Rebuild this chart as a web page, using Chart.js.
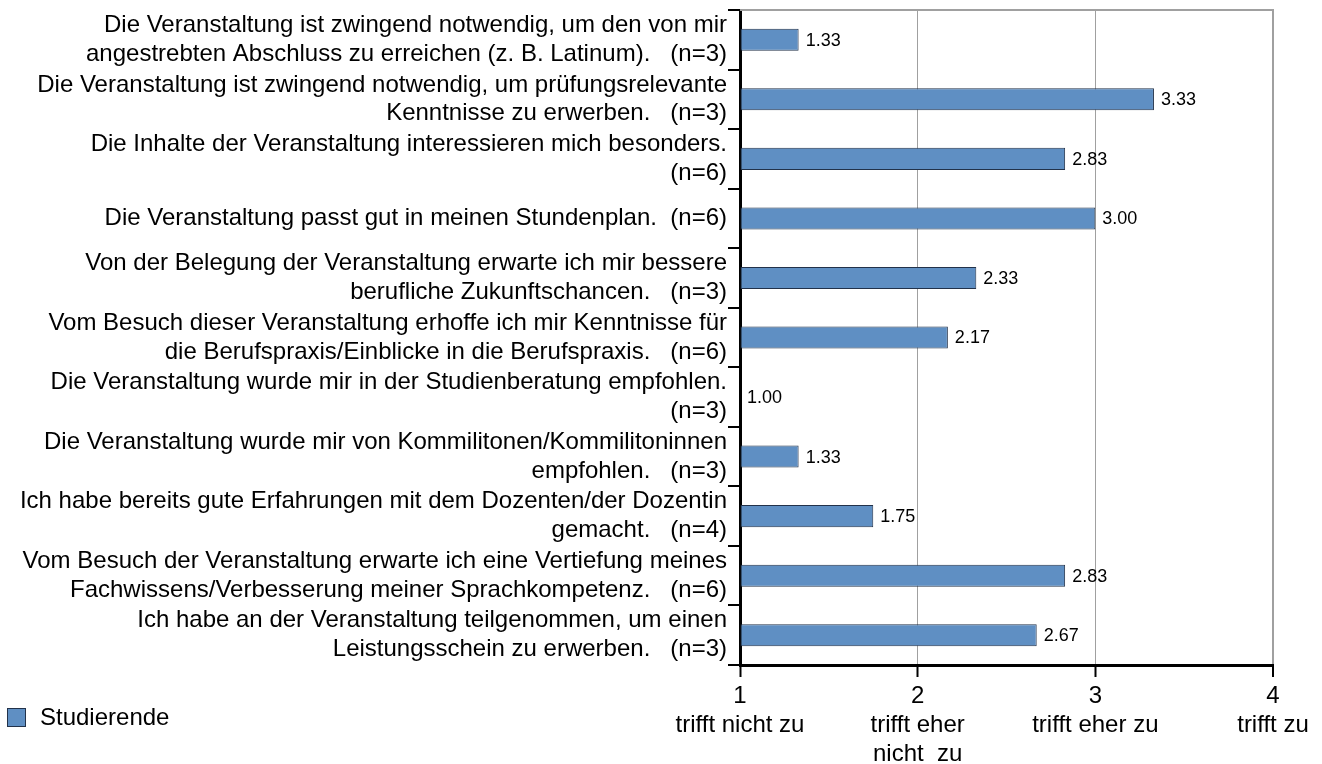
<!DOCTYPE html>
<html>
<head>
<meta charset="utf-8">
<script src="https://cdn.jsdelivr.net/npm/chart.js@4.4.1/dist/chart.umd.min.js"></script>
<style>
  html, body { margin: 0; padding: 0; background: #fff; }
  #wrap { position: relative; width: 1322px; height: 764px; }
  #legend { position: absolute; left: 7px; top: 703px; font: 24px 'Liberation Sans', Arial, sans-serif; color: #000; }
  #legend ul { list-style: none; margin: 0; padding: 0; }
  #legend li { display: flex; align-items: center; }
</style>
</head>
<body>
<div id="wrap">
  <canvas id="chart" width="1322" height="764"></canvas>
  <div id="legend"><ul></ul></div>
</div>
<script>
// Chart data
const questions = [
  ['Die Veranstaltung ist zwingend notwendig, um den von mir', 'angestrebten Abschluss zu erreichen (z. B. Latinum).'],
  ['Die Veranstaltung ist zwingend notwendig, um prüfungsrelevante', 'Kenntnisse zu erwerben.'],
  ['Die Inhalte der Veranstaltung interessieren mich besonders.', ''],
  ['Die Veranstaltung passt gut in meinen Stundenplan.'],
  ['Von der Belegung der Veranstaltung erwarte ich mir bessere', 'berufliche Zukunftschancen.'],
  ['Vom Besuch dieser Veranstaltung erhoffe ich mir Kenntnisse für', 'die Berufspraxis/Einblicke in die Berufspraxis.'],
  ['Die Veranstaltung wurde mir in der Studienberatung empfohlen.', ''],
  ['Die Veranstaltung wurde mir von Kommilitonen/Kommilitoninnen', 'empfohlen.'],
  ['Ich habe bereits gute Erfahrungen mit dem Dozenten/der Dozentin', 'gemacht.'],
  ['Vom Besuch der Veranstaltung erwarte ich eine Vertiefung meines', 'Fachwissens/Verbesserung meiner Sprachkompetenz.'],
  ['Ich habe an der Veranstaltung teilgenommen, um einen', 'Leistungsschein zu erwerben.'],
];
const counts = [3, 3, 6, 6, 3, 6, 3, 3, 4, 6, 3];
const means = [1.33, 3.33, 2.83, 3.00, 2.33, 2.17, 1.00, 1.33, 1.75, 2.83, 2.67];
const seriesName = 'Studierende';
const scaleValues = [1, 2, 3, 4];
const scaleLabels = [
  ['1', 'trifft nicht zu'],
  ['2', 'trifft eher', 'nicht  zu'],
  ['3', 'trifft eher zu'],
  ['4', 'trifft zu'],
];

const FONT = "'Liberation Sans', Arial, sans-serif";
const BAR_FILL = '#5f8fc3';
const BAR_LINE = '#22324a';

// append "(n=..)" to the last line of each question
const categories = questions.map((lines, i) => {
  const out = lines.slice();
  const last = out.length - 1;
  const sep = out.length === 1 ? '  ' : (out[last] ? '   ' : '');
  out[last] = `${out[last]}${sep}(n=${counts[i]})`;
  return out.length === 1 ? out[0] : out;
});

Chart.defaults.font.family = FONT;
Chart.defaults.color = '#000';

const ctx = document.getElementById('chart');
const chart = new Chart(ctx, {
  type: 'bar',
  data: {
    labels: categories,
    datasets: [{
      label: seriesName,
      data: means,
      base: 1,
      backgroundColor: BAR_FILL,
      borderColor: BAR_LINE,
      borderWidth: (c) => (c.raw > 1 ? 1 : 0),
      borderSkipped: false,
      categoryPercentage: 1,
      barPercentage: 0.37,
    }],
  },
  options: {
    indexAxis: 'y',
    responsive: false,
    animation: false,
    layout: {
      padding: { top: 10, right: 49, left: 0, bottom: 0 },
    },
    scales: {
      x: {
        type: 'linear',
        min: 1,
        max: 4,
        afterBuildTicks: (scale) => {
          scale.ticks = scaleValues.map((v) => ({ value: v }));
        },
        afterFit: (scale) => {
          scale.height = 99;
        },
        ticks: {
          font: { size: 24, lineHeight: 1.2 },
          padding: 5,
          maxRotation: 0,
          callback: (v) => scaleLabels[scaleValues.indexOf(v)] || '',
        },
        grid: {
          color: (c) => (c.tick && c.tick.value === 1 ? 'rgba(0,0,0,0)' : '#a0a0a0'),
          lineWidth: (c) => (c.tick && c.tick.value === 4 ? 2 : 1),
          tickColor: '#000',
          tickWidth: 2,
          tickLength: 12,
        },
        border: { color: '#000', width: 3 },
      },
      y: {
        afterFit: (scale) => {
          scale.width = 740;
          scale.paddingTop = 0;
          scale.paddingBottom = 0;
        },
        ticks: {
          font: { size: 24, lineHeight: 1.2 },
          padding: 1,
          autoSkip: false,
        },
        grid: {
          offset: true,
          drawOnChartArea: false,
          color: '#000',
          tickColor: '#000',
          lineWidth: 2,
          tickLength: 12,
        },
        border: { color: '#000', width: 3 },
      },
    },
    plugins: {
      legend: { display: false },
      tooltip: { enabled: false },
      htmlLegend: { containerID: 'legend' },
    },
  },
  plugins: [
    {
      // grey frame line along the top of the plot area
      id: 'plotFrame',
      beforeDatasetsDraw(c) {
        const { ctx: g, chartArea: a } = c;
        g.save();
        g.strokeStyle = '#a0a0a0';
        g.lineWidth = 2;
        g.beginPath();
        g.moveTo(a.left, a.top);
        g.lineTo(a.right + 1, a.top);
        g.stroke();
        g.restore();
      },
    },
    {
      // value labels next to the bars
      id: 'valueLabels',
      afterDatasetsDraw(c) {
        const g = c.ctx;
        const meta = c.getDatasetMeta(0);
        g.save();
        g.font = `18px ${FONT}`;
        g.fillStyle = '#000';
        g.textAlign = 'left';
        g.textBaseline = 'middle';
        meta.data.forEach((bar, i) => {
          g.fillText(means[i].toFixed(2), bar.x + 7, bar.y + 1);
        });
        g.restore();
      },
    },
    {
      id: 'htmlLegend',
      afterUpdate(c, args, options) {
        const legendContainer = document.getElementById(options.containerID);
        const ul = legendContainer.querySelector('ul');
        if (!ul) return;
        while (ul.firstChild) {
          ul.firstChild.remove();
        }
        const items = c.options.plugins.legend.labels.generateLabels(c);
        items.forEach((item) => {
          const li = document.createElement('li');
          // Color box
          const box = document.createElement('span');
          box.style.display = 'inline-block';
          box.style.width = '17px';
          box.style.height = '17px';
          box.style.backgroundColor = BAR_FILL;
          box.style.border = `1px solid ${BAR_LINE}`;
          box.style.marginRight = '14px';
          // Label
          const label = document.createElement('span');
          label.appendChild(document.createTextNode(item.text));
          li.appendChild(box);
          li.appendChild(label);
          ul.appendChild(li);
        });
      },
    },
  ],
});
</script>
</body>
</html>
